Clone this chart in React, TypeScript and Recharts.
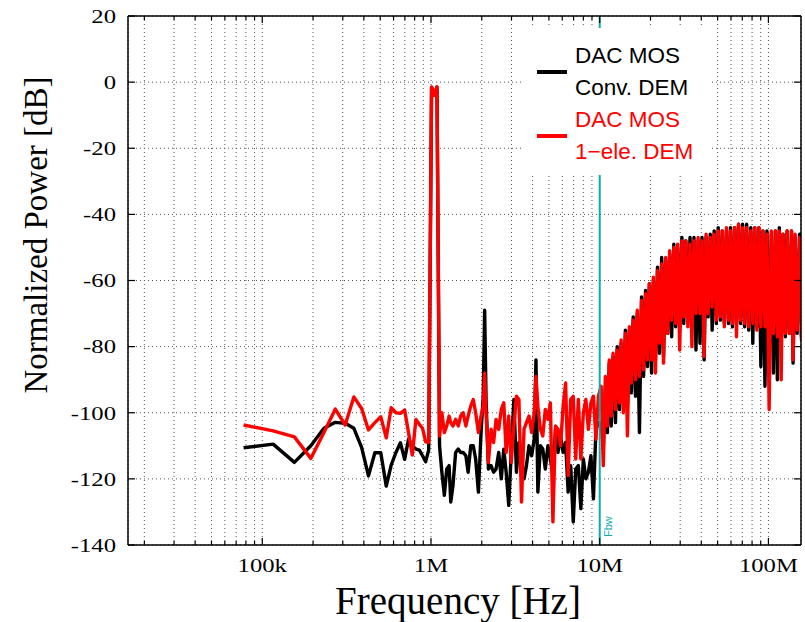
import { CartesianGrid, Line, LineChart, ReferenceLine, XAxis, YAxis } from "recharts";

const SERIF = '"Liberation Serif", "Times New Roman", serif';
const SANS = '"Liberation Sans", Arial, sans-serif';
const TEAL = "#10acac";

// ---- spectrum data (frequency in MHz, power in dB) ----
// below / around the 1 MHz test tone
const freqLow = [
  0.0775, 0.116, 0.155, 0.194, 0.232, 0.271, 0.31, 0.349, 0.388, 0.426, 0.465, 0.504, 0.543, 0.581,
  0.62, 0.659, 0.698, 0.736, 0.775, 0.814, 0.853, 0.891, 0.93, 0.969, 1.008, 1.046, 1.085, 1.124,
];
const convLow = [
  -110.6, -109.5, -115, -110, -104.7, -102.9, -103.2, -104.7, -110.5, -119.1, -112.1, -112.1, -122.2, -115.8,
  -112, -109.1, -114.1, -108, -110, -111, -111.3, -113, -114.8, -111.3, -1.5, -4, -1.5, -110,
];
const oneEleLow = [
  -103.7, -105.5, -107.3, -113.8, -106, -98.9, -103.7, -95.2, -98.7, -105.2, -103, -101.2, -107.6, -98.5,
  -100, -100.2, -99.2, -106, -112.8, -102, -103.5, -104.7, -108.8, -109, -1.5, -4, -1.5, -107,
];

// in-band noise floor, 1.1 MHz .. 10 MHz
const freqMid = [
  1.16, 1.2, 1.24, 1.28, 1.31, 1.35, 1.4, 1.45, 1.5, 1.55,
  1.61, 1.66, 1.72, 1.78, 1.84, 1.91, 1.98, 2.04, 2.08, 2.12,
  2.19, 2.27, 2.35, 2.43, 2.52, 2.61, 2.7, 2.79, 2.89, 2.99,
  3.1, 3.21, 3.32, 3.44, 3.56, 3.68, 3.81, 3.95, 4.09, 4.19,
  4.3, 4.45, 4.6, 4.76, 4.93, 5.1, 5.28, 5.47, 5.66, 5.86,
  6.07, 6.28, 6.5, 6.73, 6.97, 7.21, 7.47, 7.73, 8.0, 8.28,
  8.57, 8.87, 9.18, 9.5, 9.83,
];
const convMid = [
  -118, -125, -117, -116, -127, -122, -112, -111, -112, -112,
  -113, -118, -110, -110, -114, -124, -106, -95, -69, -96,
  -117, -116, -118, -117, -112, -120, -111, -118, -128, -112,
  -96, -118, -109, -114, -120, -116, -110, -113, -108, -84,
  -124, -110, -111, -117, -110, -114, -119, -105, -112, -107,
  -112, -109, -124, -116, -133, -117, -116, -129, -114, -120,
  -118, -113, -126, -105, -103,
];
const oneEleMid = [
  -100, -106, -104, -101, -103, -104, -102, -104, -101, -100,
  -104, -101, -98, -96, -100, -106, -101, -98, -88, -100,
  -115, -105, -109, -102, -105, -99, -97, -112, -101, -115,
  -104, -95, -96, -127, -105, -103, -101, -106, -100, -89,
  -98, -105, -107, -99, -102, -97, -133, -104, -105, -110,
  -98, -91, -119, -96, -95, -114, -96, -114, -100, -96,
  -105, -97, -95, -108, -95,
];

// out-of-band shaped noise, 10 MHz .. 160 MHz
const freqHigh = [
  10.2, 10.5, 10.8, 11.1, 11.4, 11.7, 12.0, 12.4, 12.7, 13.1,
  13.4, 13.8, 14.2, 14.6, 15.0, 15.4, 15.8, 16.3, 16.7, 17.2,
  17.7, 18.2, 18.7, 19.2, 19.7, 20.3, 20.8, 21.4, 22.0, 22.6,
  23.3, 23.9, 24.6, 25.3, 26.0, 26.7, 27.5, 28.2, 29.0, 29.8,
  30.7, 31.5, 32.4, 33.3, 34.3, 35.2, 36.2, 37.2, 38.3, 39.3,
  40.4, 41.6, 42.7, 43.9, 45.2, 46.4, 47.7, 49.1, 50.4, 51.9,
  53.3, 54.8, 56.4, 58.0, 59.6, 61.2, 63.0, 64.7, 66.5, 68.4,
  70.3, 72.3, 74.3, 76.4, 78.6, 80.8, 83.0, 85.4, 87.8, 90.2,
  92.8, 95.4, 98.0, 101, 104, 107, 110, 113, 116, 119,
  122, 126, 129, 133, 137, 140, 144, 148, 153, 157,
  161,
];
const convHigh = [
  -103, -111, -92, -106, -85, -104, -83, -103, -80, -99,
  -79, -97, -75, -98, -75, -94, -71, -95, -70, -106,
  -65, -89, -63, -86, -61, -88, -60, -84, -56, -82,
  -53, -83, -54, -76, -52, -77, -49, -74, -50, -75,
  -47, -73, -48, -72, -47, -73, -47, -81, -48, -79,
  -47, -84, -47, -71, -46, -75, -45, -73, -44, -72,
  -45, -73, -45, -73, -44, -74, -44, -73, -43, -73,
  -43, -74, -43, -75, -44, -79, -44, -74, -44, -86,
  -45, -92, -45, -84, -46, -88, -45, -90, -44, -80,
  -46, -77, -45, -76, -45, -85, -47, -76, -46, -77,
  -47,
];
const oneEleHigh = [
  -92, -116, -89, -104, -84, -101, -82, -99, -81, -97,
  -78, -100, -76, -107, -74, -91, -72, -90, -69, -89,
  -66, -87, -64, -84, -61, -84, -59, -88, -57, -79,
  -55, -85, -53, -76, -51, -72, -50, -73, -49, -81,
  -48, -71, -48, -74, -49, -80, -48, -70, -47, -70,
  -48, -83, -46, -70, -47, -68, -46, -72, -45, -71,
  -45, -74, -44, -72, -45, -73, -44, -77, -43, -72,
  -44, -73, -44, -74, -45, -73, -44, -75, -44, -74,
  -45, -74, -46, -99, -45, -76, -45, -77, -45, -90,
  -46, -76, -45, -76, -45, -84, -46, -75, -47, -78,
  -48,
];

const freqMHz = [...freqLow, ...freqMid, ...freqHigh];
const convDem = [...convLow, ...convMid, ...convHigh];
const oneEleDem = [...oneEleLow, ...oneEleMid, ...oneEleHigh];

const rows = freqMHz.map((f, i) => ({ f: f * 1e6, conv: convDem[i], oneEle: oneEleDem[i] }));

// ---- axes ----
const X_DOMAIN = [16000, 156000000];
const X_MAJOR = [1e5, 1e6, 1e7, 1e8];
const X_LABELS = ["100k", "1M", "10M", "100M"];
const X_TICKS = [
  2e4, 3e4, 4e4, 5e4, 6e4, 7e4, 8e4, 9e4, 1e5,
  2e5, 3e5, 4e5, 5e5, 6e5, 7e5, 8e5, 9e5, 1e6,
  2e6, 3e6, 4e6, 5e6, 6e6, 7e6, 8e6, 9e6, 1e7,
  2e7, 3e7, 4e7, 5e7, 6e7, 7e7, 8e7, 9e7, 1e8,
];
const Y_TICKS = [-140, -120, -100, -80, -60, -40, -20, 0, 20];
const FBW = 1e7;

const tickLen = (v: number) => (X_MAJOR.includes(v) ? 7 : 4);

function BottomTick(props: any) {
  const { x, y, payload } = props;
  const i = X_MAJOR.indexOf(payload.value);
  return (
    <g>
      <line x1={x} x2={x} y1={y} y2={y - tickLen(payload.value)} stroke="#000" strokeWidth={1.2} />
      {i >= 0 && (
        <text
          transform={`translate(${x},${y + 27}) scale(1.3,1)`}
          textAnchor="middle"
          fontFamily={SERIF}
          fontSize={19}
          fill="#000"
        >
          {X_LABELS[i]}
        </text>
      )}
    </g>
  );
}

function TopTick(props: any) {
  const { x, y, payload } = props;
  return <line x1={x} x2={x} y1={y} y2={y + tickLen(payload.value)} stroke="#000" strokeWidth={1.2} />;
}

function LeftTick(props: any) {
  const { x, y, payload } = props;
  return (
    <g>
      <line x1={x + 12} x2={x + 19} y1={y} y2={y} stroke="#000" strokeWidth={1.2} />
      <text
        transform={`translate(${x},${y}) scale(1.3,1)`}
        textAnchor="end"
        dy="0.36em"
        fontFamily={SERIF}
        fontSize={19}
        fill="#000"
      >
        {payload.value}
      </text>
    </g>
  );
}

function RightTick(props: any) {
  const { x, y } = props;
  return <line x1={x} x2={x - 7} y1={y} y2={y} stroke="#000" strokeWidth={1.2} />;
}

function FbwLabel(props: any) {
  const vb = props.viewBox || {};
  const x = vb.x + 12;
  const y = vb.y + vb.height - 8;
  return (
    <text transform={`translate(${x},${y}) rotate(-90)`} fontFamily={SANS} fontSize={11} fill={TEAL}>
      Fbw
    </text>
  );
}

const axisLine = { stroke: "#000", strokeWidth: 1.5 };

export default function App() {
  return (
    <div style={{ position: "absolute", left: 0, top: 0, width: 805, height: 622, background: "#fff" }}>
      <LineChart width={805} height={622} data={rows} margin={{ top: 15, right: 3, bottom: 37, left: 68 }}>
        <CartesianGrid stroke="#555" strokeDasharray="1 3" />
        <XAxis
          dataKey="f"
          type="number"
          scale="log"
          domain={X_DOMAIN}
          allowDataOverflow
          ticks={X_TICKS}
          interval={0}
          height={40}
          tickSize={0}
          tickMargin={0}
          tickLine={false}
          axisLine={axisLine}
          tick={<BottomTick />}
        />
        <XAxis
          xAxisId="top"
          orientation="top"
          dataKey="f"
          type="number"
          scale="log"
          domain={X_DOMAIN}
          allowDataOverflow
          ticks={X_TICKS}
          interval={0}
          height={1}
          tickSize={0}
          tickMargin={0}
          tickLine={false}
          axisLine={axisLine}
          tick={<TopTick />}
        />
        <YAxis
          type="number"
          domain={[-140, 20]}
          allowDataOverflow
          ticks={Y_TICKS}
          interval={0}
          width={60}
          tickSize={0}
          tickMargin={12}
          tickLine={false}
          axisLine={axisLine}
          tick={<LeftTick />}
        />
        <YAxis
          yAxisId="right"
          orientation="right"
          type="number"
          domain={[-140, 20]}
          allowDataOverflow
          ticks={Y_TICKS}
          interval={0}
          width={1}
          tickSize={0}
          tickMargin={0}
          tickLine={false}
          axisLine={axisLine}
          tick={<RightTick />}
        />
        <Line
          dataKey="conv"
          type="linear"
          stroke="#000"
          strokeWidth={3.4}
          dot={false}
          isAnimationActive={false}
          strokeLinejoin="round"
        />
        <Line
          dataKey="oneEle"
          type="linear"
          stroke="#ff0000"
          strokeWidth={3.4}
          dot={false}
          isAnimationActive={false}
          strokeLinejoin="round"
        />
        <ReferenceLine x={FBW} stroke={TEAL} strokeWidth={2} label={<FbwLabel />} />
      </LineChart>

      {/* key box */}
      <div
        style={{
          position: "absolute",
          left: 523,
          top: 28,
          width: 189,
          height: 147,
          background: "#fff",
          fontFamily: SANS,
          fontSize: 22.5,
          lineHeight: "31.7px",
          whiteSpace: "nowrap",
        }}
      >
        <div style={{ position: "absolute", left: 14, top: 42.3, width: 30, height: 4, background: "#000" }} />
        <div style={{ position: "absolute", left: 52, top: 12.3, color: "#000" }}>
          DAC MOS
          <br />
          Conv. DEM
        </div>
        <div style={{ position: "absolute", left: 14, top: 105.7, width: 30, height: 4, background: "#ff0000" }} />
        <div style={{ position: "absolute", left: 52, top: 76.3, color: "#ff0000" }}>
          DAC MOS
          <br />
          1−ele. DEM
        </div>
      </div>

      <div
        style={{
          position: "absolute",
          left: 36,
          top: 234.5,
          transform: "translate(-50%, -50%) rotate(-90deg)",
          fontFamily: SERIF,
          fontSize: 33,
          whiteSpace: "nowrap",
          color: "#000",
        }}
      >
        Normalized Power [dB]
      </div>
      <div
        style={{
          position: "absolute",
          left: 458,
          top: 600,
          transform: "translate(-50%, -50%)",
          fontFamily: SERIF,
          fontSize: 39,
          whiteSpace: "nowrap",
          color: "#000",
        }}
      >
        Frequency [Hz]
      </div>
    </div>
  );
}
